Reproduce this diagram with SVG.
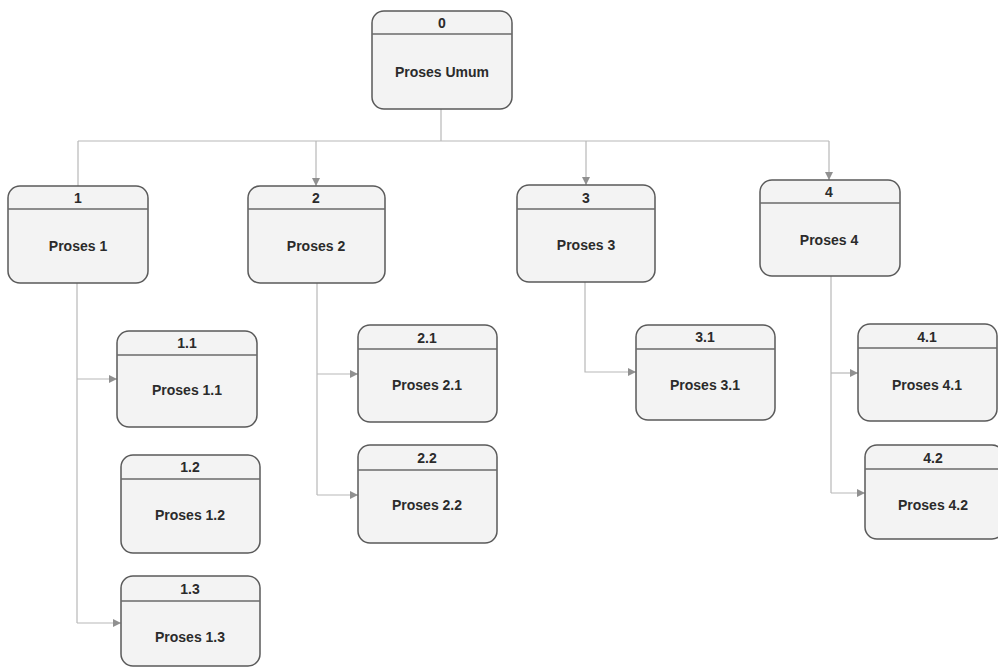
<svg xmlns="http://www.w3.org/2000/svg" width="998" height="668" viewBox="0 0 998 668">
  <style>
    .box { fill: #f3f3f3; stroke: #5a5a5a; stroke-width: 1.5; }
    .div { stroke: #6a6a6a; stroke-width: 1.3; }
    .num { font-family: "Liberation Sans", Arial, sans-serif; font-size: 14px; font-weight: bold; fill: #2b2b2b; text-anchor: middle; }
    .lbl { font-family: "Liberation Sans", Arial, sans-serif; font-size: 14px; font-weight: bold; fill: #2b2b2b; text-anchor: middle; }
    .wire { fill: none; stroke: #b8b8b8; stroke-width: 1.2; }
  </style>
  <defs>
    <marker id="arr" viewBox="0 0 10 10" refX="10" refY="5" markerWidth="8" markerHeight="9" markerUnits="userSpaceOnUse" orient="auto">
      <path d="M0,0 L10,5 L0,10 Z" fill="#909090"/>
    </marker>
  </defs>
  <rect width="998" height="668" fill="#ffffff"/>

  <!-- connectors -->
  <g id="connectors">
    <path class="wire" d="M441,109 V141"/>
    <path class="wire" d="M78,141 H829"/>
    <path class="wire" d="M78,141 V186"/>
    <path class="wire" d="M316,141 V186" marker-end="url(#arr)"/>
    <path class="wire" d="M586,141 V185" marker-end="url(#arr)"/>
    <path class="wire" d="M829,141 V180" marker-end="url(#arr)"/>

    <path class="wire" d="M77,283 V623"/>
    <path class="wire" d="M77,379 H117" marker-end="url(#arr)"/>
    <path class="wire" d="M77,623 H121" marker-end="url(#arr)"/>

    <path class="wire" d="M317,283 V495"/>
    <path class="wire" d="M317,374 H358" marker-end="url(#arr)"/>
    <path class="wire" d="M317,495 H358" marker-end="url(#arr)"/>

    <path class="wire" d="M585,282 V372 H636" marker-end="url(#arr)"/>

    <path class="wire" d="M831,276 V493"/>
    <path class="wire" d="M831,373 H858" marker-end="url(#arr)"/>
    <path class="wire" d="M831,493 H865" marker-end="url(#arr)"/>
  </g>

  <!-- process nodes -->
  <g id="node-0">
    <rect class="box" x="372" y="11" width="140" height="98" rx="12"/>
    <line class="div" x1="372" y1="34" x2="512" y2="34"/>
    <text class="num" x="442" y="28">0</text>
    <text class="lbl" x="442" y="77">Proses Umum</text>
  </g>

  <g id="node-1">
    <rect class="box" x="8" y="186" width="140" height="97" rx="12"/>
    <line class="div" x1="8" y1="209" x2="148" y2="209"/>
    <text class="num" x="78" y="203">1</text>
    <text class="lbl" x="78" y="251">Proses 1</text>
  </g>

  <g id="node-2">
    <rect class="box" x="248" y="186" width="137" height="97" rx="12"/>
    <line class="div" x1="248" y1="209" x2="385" y2="209"/>
    <text class="num" x="316" y="203">2</text>
    <text class="lbl" x="316" y="251">Proses 2</text>
  </g>

  <g id="node-3">
    <rect class="box" x="517" y="185" width="138" height="97" rx="12"/>
    <line class="div" x1="517" y1="209" x2="655" y2="209"/>
    <text class="num" x="586" y="203">3</text>
    <text class="lbl" x="586" y="250">Proses 3</text>
  </g>

  <g id="node-4">
    <rect class="box" x="760" y="180" width="140" height="96" rx="12"/>
    <line class="div" x1="760" y1="203" x2="900" y2="203"/>
    <text class="num" x="829" y="197">4</text>
    <text class="lbl" x="829" y="245">Proses 4</text>
  </g>

  <g id="node-1-1">
    <rect class="box" x="117" y="331" width="140" height="96" rx="12"/>
    <line class="div" x1="117" y1="355" x2="257" y2="355"/>
    <text class="num" x="187" y="348">1.1</text>
    <text class="lbl" x="187" y="395">Proses 1.1</text>
  </g>

  <g id="node-1-2">
    <rect class="box" x="121" y="455" width="139" height="98" rx="12"/>
    <line class="div" x1="121" y1="479" x2="260" y2="479"/>
    <text class="num" x="190" y="472">1.2</text>
    <text class="lbl" x="190" y="520">Proses 1.2</text>
  </g>

  <g id="node-1-3">
    <rect class="box" x="121" y="576" width="139" height="90" rx="12"/>
    <line class="div" x1="121" y1="601" x2="260" y2="601"/>
    <text class="num" x="190" y="594">1.3</text>
    <text class="lbl" x="190" y="642">Proses 1.3</text>
  </g>

  <g id="node-2-1">
    <rect class="box" x="358" y="325" width="139" height="97" rx="12"/>
    <line class="div" x1="358" y1="349" x2="497" y2="349"/>
    <text class="num" x="427" y="343">2.1</text>
    <text class="lbl" x="427" y="390">Proses 2.1</text>
  </g>

  <g id="node-2-2">
    <rect class="box" x="358" y="445" width="139" height="98" rx="12"/>
    <line class="div" x1="358" y1="470" x2="497" y2="470"/>
    <text class="num" x="427" y="463">2.2</text>
    <text class="lbl" x="427" y="510">Proses 2.2</text>
  </g>

  <g id="node-3-1">
    <rect class="box" x="636" y="325" width="139" height="95" rx="12"/>
    <line class="div" x1="636" y1="349" x2="775" y2="349"/>
    <text class="num" x="705" y="342">3.1</text>
    <text class="lbl" x="705" y="390">Proses 3.1</text>
  </g>

  <g id="node-4-1">
    <rect class="box" x="858" y="324" width="139" height="97" rx="12"/>
    <line class="div" x1="858" y1="348" x2="997" y2="348"/>
    <text class="num" x="927" y="342">4.1</text>
    <text class="lbl" x="927" y="390">Proses 4.1</text>
  </g>

  <g id="node-4-2">
    <rect class="box" x="865" y="445" width="139" height="94" rx="12"/>
    <line class="div" x1="865" y1="469" x2="1004" y2="469"/>
    <text class="num" x="933" y="463">4.2</text>
    <text class="lbl" x="933" y="510">Proses 4.2</text>
  </g>
</svg>
